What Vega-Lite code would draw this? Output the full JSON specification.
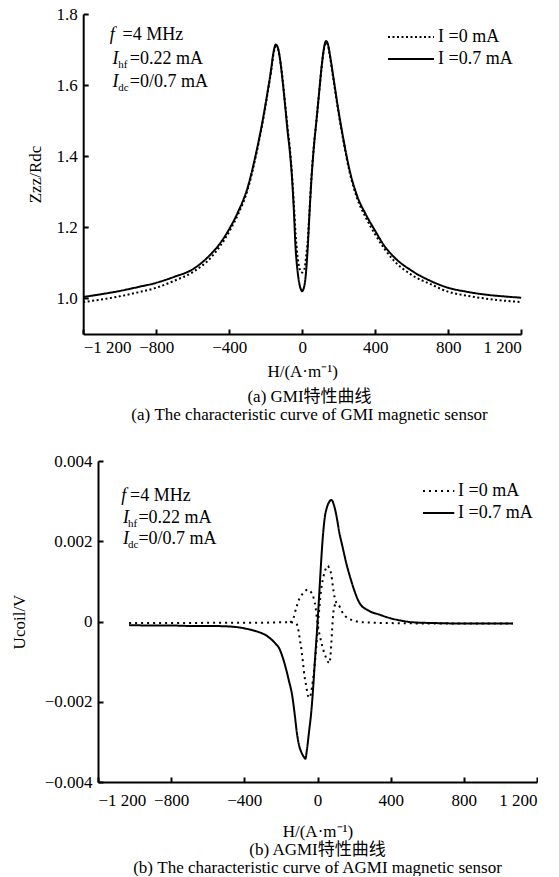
{
  "$schema": "https://vega.github.io/schema/vega-lite/v6.json",
  "background": "white",
  "padding": {"left": 10, "top": 5, "right": 0, "bottom": 0},
  "spacing": 29,
  "config": {
    "font": "Liberation Serif",
    "view": {"stroke": null},
    "axis": {
      "grid": false,
      "domainColor": "black", "domainWidth": 2,
      "tickColor": "black", "tickWidth": 2, "tickSize": -5,
      "labelFont": "Liberation Serif", "labelFontSize": 17, "labelColor": "black",
      "titleFont": "Liberation Serif", "titleFontSize": 17, "titleFontWeight": "normal", "titleColor": "black"
    },
    "axisY": {"labelPadding": 11},
    "legend": {
      "orient": "none", "title": null, "symbolStrokeWidth": 2,
      "symbolStrokeColor": "black", "labelFont": "Liberation Serif", "labelFontSize": 18,
      "labelColor": "black", "padding": 0, "rowPadding": 4, "symbolSize": 196
    },
    "title": {"orient": "bottom", "anchor": "middle", "frame": "group", "fontSize": 17, "fontWeight": "normal", "font": "Liberation Serif, Noto Sans CJK SC", "lineHeight": 18, "color": "black"},
    "text": {"font": "Liberation Serif", "color": "black", "align": "left", "baseline": "alphabetic"}
  },
  "resolve": {"scale": {"strokeDash": "independent"}, "legend": {"strokeDash": "independent"}},
  "datasets": {
    "gmi": [
      {"H": -1200, "v": 1.004, "s": "I =0.7 mA"}, {"H": -1100, "v": 1.012, "s": "I =0.7 mA"}, {"H": -1000, "v": 1.021, "s": "I =0.7 mA"},
      {"H": -900, "v": 1.032, "s": "I =0.7 mA"}, {"H": -800, "v": 1.044, "s": "I =0.7 mA"}, {"H": -700, "v": 1.061, "s": "I =0.7 mA"},
      {"H": -600, "v": 1.082, "s": "I =0.7 mA"}, {"H": -500, "v": 1.125, "s": "I =0.7 mA"}, {"H": -450, "v": 1.155, "s": "I =0.7 mA"},
      {"H": -400, "v": 1.195, "s": "I =0.7 mA"}, {"H": -350, "v": 1.245, "s": "I =0.7 mA"}, {"H": -300, "v": 1.31, "s": "I =0.7 mA"},
      {"H": -250, "v": 1.415, "s": "I =0.7 mA"}, {"H": -215, "v": 1.505, "s": "I =0.7 mA"}, {"H": -190, "v": 1.58, "s": "I =0.7 mA"},
      {"H": -170, "v": 1.645, "s": "I =0.7 mA"}, {"H": -158, "v": 1.69, "s": "I =0.7 mA"}, {"H": -145, "v": 1.714, "s": "I =0.7 mA"},
      {"H": -135, "v": 1.708, "s": "I =0.7 mA"}, {"H": -122, "v": 1.675, "s": "I =0.7 mA"}, {"H": -108, "v": 1.615, "s": "I =0.7 mA"},
      {"H": -94, "v": 1.545, "s": "I =0.7 mA"}, {"H": -80, "v": 1.47, "s": "I =0.7 mA"}, {"H": -68, "v": 1.415, "s": "I =0.7 mA"},
      {"H": -56, "v": 1.34, "s": "I =0.7 mA"}, {"H": -46, "v": 1.25, "s": "I =0.7 mA"}, {"H": -36, "v": 1.14, "s": "I =0.7 mA"},
      {"H": -26, "v": 1.08, "s": "I =0.7 mA"}, {"H": -15, "v": 1.04, "s": "I =0.7 mA"}, {"H": -6, "v": 1.024, "s": "I =0.7 mA"},
      {"H": 0, "v": 1.02, "s": "I =0.7 mA"}, {"H": 6, "v": 1.025, "s": "I =0.7 mA"}, {"H": 15, "v": 1.045, "s": "I =0.7 mA"},
      {"H": 22, "v": 1.08, "s": "I =0.7 mA"}, {"H": 30, "v": 1.14, "s": "I =0.7 mA"}, {"H": 40, "v": 1.24, "s": "I =0.7 mA"},
      {"H": 50, "v": 1.33, "s": "I =0.7 mA"}, {"H": 63, "v": 1.42, "s": "I =0.7 mA"}, {"H": 78, "v": 1.5, "s": "I =0.7 mA"},
      {"H": 92, "v": 1.575, "s": "I =0.7 mA"}, {"H": 106, "v": 1.65, "s": "I =0.7 mA"}, {"H": 118, "v": 1.7, "s": "I =0.7 mA"},
      {"H": 130, "v": 1.724, "s": "I =0.7 mA"}, {"H": 140, "v": 1.717, "s": "I =0.7 mA"}, {"H": 152, "v": 1.685, "s": "I =0.7 mA"},
      {"H": 170, "v": 1.625, "s": "I =0.7 mA"}, {"H": 195, "v": 1.54, "s": "I =0.7 mA"}, {"H": 225, "v": 1.45, "s": "I =0.7 mA"},
      {"H": 260, "v": 1.36, "s": "I =0.7 mA"}, {"H": 300, "v": 1.29, "s": "I =0.7 mA"}, {"H": 350, "v": 1.235, "s": "I =0.7 mA"},
      {"H": 400, "v": 1.19, "s": "I =0.7 mA"}, {"H": 450, "v": 1.148, "s": "I =0.7 mA"}, {"H": 500, "v": 1.118, "s": "I =0.7 mA"},
      {"H": 600, "v": 1.078, "s": "I =0.7 mA"}, {"H": 700, "v": 1.05, "s": "I =0.7 mA"}, {"H": 800, "v": 1.03, "s": "I =0.7 mA"},
      {"H": 900, "v": 1.019, "s": "I =0.7 mA"}, {"H": 1000, "v": 1.011, "s": "I =0.7 mA"}, {"H": 1100, "v": 1.006, "s": "I =0.7 mA"},
      {"H": 1200, "v": 1.002, "s": "I =0.7 mA"},
      {"H": -1200, "v": 0.99, "s": "I =0 mA"}, {"H": -1100, "v": 0.997, "s": "I =0 mA"}, {"H": -1000, "v": 1.006, "s": "I =0 mA"},
      {"H": -900, "v": 1.017, "s": "I =0 mA"}, {"H": -800, "v": 1.03, "s": "I =0 mA"}, {"H": -700, "v": 1.05, "s": "I =0 mA"},
      {"H": -600, "v": 1.074, "s": "I =0 mA"}, {"H": -500, "v": 1.115, "s": "I =0 mA"}, {"H": -450, "v": 1.147, "s": "I =0 mA"},
      {"H": -400, "v": 1.188, "s": "I =0 mA"}, {"H": -350, "v": 1.238, "s": "I =0 mA"}, {"H": -300, "v": 1.304, "s": "I =0 mA"},
      {"H": -250, "v": 1.41, "s": "I =0 mA"}, {"H": -215, "v": 1.5, "s": "I =0 mA"}, {"H": -190, "v": 1.576, "s": "I =0 mA"},
      {"H": -170, "v": 1.64, "s": "I =0 mA"}, {"H": -158, "v": 1.685, "s": "I =0 mA"}, {"H": -145, "v": 1.708, "s": "I =0 mA"},
      {"H": -135, "v": 1.705, "s": "I =0 mA"}, {"H": -122, "v": 1.675, "s": "I =0 mA"}, {"H": -108, "v": 1.62, "s": "I =0 mA"},
      {"H": -94, "v": 1.55, "s": "I =0 mA"}, {"H": -80, "v": 1.48, "s": "I =0 mA"}, {"H": -68, "v": 1.425, "s": "I =0 mA"},
      {"H": -56, "v": 1.35, "s": "I =0 mA"}, {"H": -46, "v": 1.27, "s": "I =0 mA"}, {"H": -36, "v": 1.18, "s": "I =0 mA"},
      {"H": -26, "v": 1.12, "s": "I =0 mA"}, {"H": -15, "v": 1.085, "s": "I =0 mA"}, {"H": -6, "v": 1.074, "s": "I =0 mA"},
      {"H": 0, "v": 1.073, "s": "I =0 mA"}, {"H": 6, "v": 1.076, "s": "I =0 mA"}, {"H": 15, "v": 1.09, "s": "I =0 mA"},
      {"H": 22, "v": 1.12, "s": "I =0 mA"}, {"H": 30, "v": 1.16, "s": "I =0 mA"}, {"H": 40, "v": 1.245, "s": "I =0 mA"},
      {"H": 50, "v": 1.335, "s": "I =0 mA"}, {"H": 63, "v": 1.425, "s": "I =0 mA"}, {"H": 78, "v": 1.5, "s": "I =0 mA"},
      {"H": 92, "v": 1.575, "s": "I =0 mA"}, {"H": 106, "v": 1.648, "s": "I =0 mA"}, {"H": 118, "v": 1.697, "s": "I =0 mA"},
      {"H": 130, "v": 1.72, "s": "I =0 mA"}, {"H": 140, "v": 1.713, "s": "I =0 mA"}, {"H": 152, "v": 1.68, "s": "I =0 mA"},
      {"H": 170, "v": 1.62, "s": "I =0 mA"}, {"H": 195, "v": 1.535, "s": "I =0 mA"}, {"H": 225, "v": 1.445, "s": "I =0 mA"},
      {"H": 260, "v": 1.355, "s": "I =0 mA"}, {"H": 300, "v": 1.283, "s": "I =0 mA"}, {"H": 350, "v": 1.226, "s": "I =0 mA"},
      {"H": 400, "v": 1.18, "s": "I =0 mA"}, {"H": 450, "v": 1.14, "s": "I =0 mA"}, {"H": 500, "v": 1.108, "s": "I =0 mA"},
      {"H": 600, "v": 1.066, "s": "I =0 mA"}, {"H": 700, "v": 1.041, "s": "I =0 mA"}, {"H": 800, "v": 1.019, "s": "I =0 mA"},
      {"H": 900, "v": 1.008, "s": "I =0 mA"}, {"H": 1000, "v": 1.0, "s": "I =0 mA"}, {"H": 1100, "v": 0.994, "s": "I =0 mA"},
      {"H": 1200, "v": 0.99, "s": "I =0 mA"}
    ],
    "agmi": [
      {"H": -1030, "v": -0.00009, "s": "I =0.7 mA", "sweep": "c"}, {"H": -900, "v": -0.0001, "s": "I =0.7 mA", "sweep": "c"},
      {"H": -800, "v": -0.0001, "s": "I =0.7 mA", "sweep": "c"}, {"H": -700, "v": -0.00011, "s": "I =0.7 mA", "sweep": "c"},
      {"H": -600, "v": -0.00011, "s": "I =0.7 mA", "sweep": "c"}, {"H": -500, "v": -0.00012, "s": "I =0.7 mA", "sweep": "c"},
      {"H": -440, "v": -0.00014, "s": "I =0.7 mA", "sweep": "c"}, {"H": -380, "v": -0.00019, "s": "I =0.7 mA", "sweep": "c"},
      {"H": -330, "v": -0.00025, "s": "I =0.7 mA", "sweep": "c"}, {"H": -273, "v": -0.00037, "s": "I =0.7 mA", "sweep": "c"},
      {"H": -230, "v": -0.00055, "s": "I =0.7 mA", "sweep": "c"}, {"H": -208, "v": -0.00068, "s": "I =0.7 mA", "sweep": "c"},
      {"H": -190, "v": -0.0009, "s": "I =0.7 mA", "sweep": "c"}, {"H": -171, "v": -0.0012, "s": "I =0.7 mA", "sweep": "c"},
      {"H": -155, "v": -0.0015, "s": "I =0.7 mA", "sweep": "c"}, {"H": -140, "v": -0.0018, "s": "I =0.7 mA", "sweep": "c"},
      {"H": -125, "v": -0.0023, "s": "I =0.7 mA", "sweep": "c"}, {"H": -112, "v": -0.0028, "s": "I =0.7 mA", "sweep": "c"},
      {"H": -100, "v": -0.0031, "s": "I =0.7 mA", "sweep": "c"}, {"H": -89, "v": -0.00325, "s": "I =0.7 mA", "sweep": "c"},
      {"H": -78, "v": -0.00335, "s": "I =0.7 mA", "sweep": "c"}, {"H": -66, "v": -0.00342, "s": "I =0.7 mA", "sweep": "c"},
      {"H": -58, "v": -0.0032, "s": "I =0.7 mA", "sweep": "c"}, {"H": -45, "v": -0.0027, "s": "I =0.7 mA", "sweep": "c"},
      {"H": -35, "v": -0.0023, "s": "I =0.7 mA", "sweep": "c"}, {"H": -26, "v": -0.0018, "s": "I =0.7 mA", "sweep": "c"},
      {"H": -13, "v": -0.0009, "s": "I =0.7 mA", "sweep": "c"}, {"H": 0, "v": -0.00004, "s": "I =0.7 mA", "sweep": "c"},
      {"H": 11, "v": 0.0008, "s": "I =0.7 mA", "sweep": "c"}, {"H": 20, "v": 0.0015, "s": "I =0.7 mA", "sweep": "c"},
      {"H": 29, "v": 0.0021, "s": "I =0.7 mA", "sweep": "c"}, {"H": 40, "v": 0.0026, "s": "I =0.7 mA", "sweep": "c"},
      {"H": 52, "v": 0.00285, "s": "I =0.7 mA", "sweep": "c"}, {"H": 64, "v": 0.00298, "s": "I =0.7 mA", "sweep": "c"},
      {"H": 76, "v": 0.00303, "s": "I =0.7 mA", "sweep": "c"}, {"H": 90, "v": 0.0029, "s": "I =0.7 mA", "sweep": "c"},
      {"H": 105, "v": 0.0026, "s": "I =0.7 mA", "sweep": "c"}, {"H": 120, "v": 0.0022, "s": "I =0.7 mA", "sweep": "c"},
      {"H": 135, "v": 0.0019, "s": "I =0.7 mA", "sweep": "c"}, {"H": 157, "v": 0.00146, "s": "I =0.7 mA", "sweep": "c"},
      {"H": 180, "v": 0.00108, "s": "I =0.7 mA", "sweep": "c"}, {"H": 200, "v": 0.00079, "s": "I =0.7 mA", "sweep": "c"},
      {"H": 230, "v": 0.00046, "s": "I =0.7 mA", "sweep": "c"}, {"H": 280, "v": 0.00027, "s": "I =0.7 mA", "sweep": "c"},
      {"H": 339, "v": 0.00017, "s": "I =0.7 mA", "sweep": "c"}, {"H": 400, "v": 0.00008, "s": "I =0.7 mA", "sweep": "c"},
      {"H": 460, "v": 0.00002, "s": "I =0.7 mA", "sweep": "c"}, {"H": 521, "v": -0.00002, "s": "I =0.7 mA", "sweep": "c"},
      {"H": 650, "v": -0.00004, "s": "I =0.7 mA", "sweep": "c"}, {"H": 800, "v": -0.00005, "s": "I =0.7 mA", "sweep": "c"},
      {"H": 1068, "v": -0.00005, "s": "I =0.7 mA", "sweep": "c"},
      {"H": -1030, "v": -0.00004, "s": "I =0 mA", "sweep": "a"}, {"H": -800, "v": -0.00004, "s": "I =0 mA", "sweep": "a"},
      {"H": -500, "v": -0.00003, "s": "I =0 mA", "sweep": "a"}, {"H": -300, "v": -0.00003, "s": "I =0 mA", "sweep": "a"},
      {"H": -200, "v": -0.00002, "s": "I =0 mA", "sweep": "a"}, {"H": -150, "v": -0.00002, "s": "I =0 mA", "sweep": "a"},
      {"H": -120, "v": -0.00003, "s": "I =0 mA", "sweep": "a"}, {"H": -110, "v": -0.0001, "s": "I =0 mA", "sweep": "a"},
      {"H": -98, "v": -0.0004, "s": "I =0 mA", "sweep": "a"}, {"H": -88, "v": -0.0007, "s": "I =0 mA", "sweep": "a"},
      {"H": -80, "v": -0.001, "s": "I =0 mA", "sweep": "a"}, {"H": -70, "v": -0.0014, "s": "I =0 mA", "sweep": "a"},
      {"H": -62, "v": -0.0016, "s": "I =0 mA", "sweep": "a"}, {"H": -52, "v": -0.00185, "s": "I =0 mA", "sweep": "a"},
      {"H": -44, "v": -0.0019, "s": "I =0 mA", "sweep": "a"}, {"H": -36, "v": -0.0018, "s": "I =0 mA", "sweep": "a"},
      {"H": -26, "v": -0.0015, "s": "I =0 mA", "sweep": "a"}, {"H": -16, "v": -0.0011, "s": "I =0 mA", "sweep": "a"},
      {"H": -7, "v": -0.00066, "s": "I =0 mA", "sweep": "a"}, {"H": 2, "v": -0.0001, "s": "I =0 mA", "sweep": "a"},
      {"H": 11, "v": 0.00038, "s": "I =0 mA", "sweep": "a"}, {"H": 20, "v": 0.0008, "s": "I =0 mA", "sweep": "a"},
      {"H": 29, "v": 0.00104, "s": "I =0 mA", "sweep": "a"}, {"H": 40, "v": 0.00125, "s": "I =0 mA", "sweep": "a"},
      {"H": 50, "v": 0.00136, "s": "I =0 mA", "sweep": "a"}, {"H": 56, "v": 0.00139, "s": "I =0 mA", "sweep": "a"},
      {"H": 66, "v": 0.0013, "s": "I =0 mA", "sweep": "a"}, {"H": 75, "v": 0.00118, "s": "I =0 mA", "sweep": "a"},
      {"H": 84, "v": 0.00088, "s": "I =0 mA", "sweep": "a"}, {"H": 93, "v": 0.00062, "s": "I =0 mA", "sweep": "a"},
      {"H": 102, "v": 0.00048, "s": "I =0 mA", "sweep": "a"}, {"H": 111, "v": 0.00044, "s": "I =0 mA", "sweep": "a"},
      {"H": 125, "v": 0.00034, "s": "I =0 mA", "sweep": "a"}, {"H": 138, "v": 0.00021, "s": "I =0 mA", "sweep": "a"},
      {"H": 160, "v": 0.0001, "s": "I =0 mA", "sweep": "a"}, {"H": 193, "v": 0.00003, "s": "I =0 mA", "sweep": "a"},
      {"H": 250, "v": -0.00002, "s": "I =0 mA", "sweep": "a"}, {"H": 400, "v": -0.00004, "s": "I =0 mA", "sweep": "a"},
      {"H": 700, "v": -0.00005, "s": "I =0 mA", "sweep": "a"}, {"H": 1068, "v": -0.00005, "s": "I =0 mA", "sweep": "a"},
      {"H": -150, "v": -0.00002, "s": "I =0 mA", "sweep": "b"}, {"H": -135, "v": 0.00004, "s": "I =0 mA", "sweep": "b"},
      {"H": -117, "v": 0.00033, "s": "I =0 mA", "sweep": "b"}, {"H": -98, "v": 0.00058, "s": "I =0 mA", "sweep": "b"},
      {"H": -80, "v": 0.0007, "s": "I =0 mA", "sweep": "b"}, {"H": -65, "v": 0.00077, "s": "I =0 mA", "sweep": "b"},
      {"H": -53, "v": 0.00079, "s": "I =0 mA", "sweep": "b"}, {"H": -44, "v": 0.00078, "s": "I =0 mA", "sweep": "b"},
      {"H": -35, "v": 0.00073, "s": "I =0 mA", "sweep": "b"}, {"H": -26, "v": 0.00066, "s": "I =0 mA", "sweep": "b"},
      {"H": -18, "v": 0.00052, "s": "I =0 mA", "sweep": "b"}, {"H": -11, "v": 0.00038, "s": "I =0 mA", "sweep": "b"},
      {"H": -4, "v": 0.0001, "s": "I =0 mA", "sweep": "b"}, {"H": 2, "v": -0.0001, "s": "I =0 mA", "sweep": "b"},
      {"H": 10, "v": -0.0003, "s": "I =0 mA", "sweep": "b"}, {"H": 20, "v": -0.0005, "s": "I =0 mA", "sweep": "b"},
      {"H": 30, "v": -0.00068, "s": "I =0 mA", "sweep": "b"}, {"H": 40, "v": -0.00082, "s": "I =0 mA", "sweep": "b"},
      {"H": 50, "v": -0.00094, "s": "I =0 mA", "sweep": "b"}, {"H": 58, "v": -0.00101, "s": "I =0 mA", "sweep": "b"},
      {"H": 66, "v": -0.00104, "s": "I =0 mA", "sweep": "b"}, {"H": 70, "v": -0.0009, "s": "I =0 mA", "sweep": "b"},
      {"H": 75, "v": -0.0006, "s": "I =0 mA", "sweep": "b"}, {"H": 80, "v": -0.0002, "s": "I =0 mA", "sweep": "b"},
      {"H": 86, "v": 0.0002, "s": "I =0 mA", "sweep": "b"}, {"H": 93, "v": 0.00038, "s": "I =0 mA", "sweep": "b"},
      {"H": 102, "v": 0.00045, "s": "I =0 mA", "sweep": "b"}, {"H": 111, "v": 0.00044, "s": "I =0 mA", "sweep": "b"}
    ]
  },
  "vconcat": [
    {
      "width": 423, "height": 320,
      "title": {"text": ["(a) GMI特性曲线", "(a) The characteristic curve of GMI magnetic sensor"], "offset": 10},
      "layer": [
        {
          "data": {"name": "gmi"},
          "mark": {"type": "line", "strokeWidth": 2, "color": "black", "strokeCap": "butt", "interpolate": "monotone"},
          "encoding": {
            "x": {"field": "H", "type": "quantitative", "scale": {"domain": [-1200, 1200], "nice": false, "range": [-14.8, 423.2]},
                  "axis": {"values": [-1200, -800, -400, 0, 400, 800, 1200], "labelExpr": "replace(format(datum.value, ','), ',', ' ')",
                           "title": "H/(A·m⁻¹)", "labelFont": "Liberation Serif", "titleFont": "Liberation Serif", "labelPadding": 10, "titlePadding": 8}},
            "y": {"field": "v", "type": "quantitative", "scale": {"domain": [0.9, 1.8], "nice": false, "zero": false},
                  "axis": {"values": [1.0, 1.2, 1.4, 1.6, 1.8], "format": ".1f", "title": "Zzz/Rdc", "titlePadding": 11, "offset": 14.8,
                           "labelFont": "Liberation Serif", "titleFont": "Liberation Serif"}},
            "strokeDash": {"field": "s", "type": "nominal",
                  "scale": {"domain": ["I =0 mA", "I =0.7 mA"], "range": [[2, 2.5], [1, 0]]},
                  "legend": {"legendX": 288, "legendY": 14, "symbolType": "M-1,0L5.57,0", "labelOffset": 34, "labelFont": "Liberation Serif"}}
          }
        },
        {"data": {"values": [{}]}, "mark": {"type": "text", "text": "f", "fontStyle": "italic", "fontSize": 18}, "encoding": {"x": {"datum": -1055}, "y": {"datum": 1.728}}},
        {"data": {"values": [{}]}, "mark": {"type": "text", "text": "=4 MHz", "fontSize": 18}, "encoding": {"x": {"datum": -984}, "y": {"datum": 1.728}}},
        {"data": {"values": [{}]}, "mark": {"type": "text", "text": "I", "fontStyle": "italic", "fontSize": 18}, "encoding": {"x": {"datum": -1040}, "y": {"datum": 1.659}}},
        {"data": {"values": [{}]}, "mark": {"type": "text", "text": "hf", "fontSize": 11, "dy": 4}, "encoding": {"x": {"datum": -1008}, "y": {"datum": 1.659}}},
        {"data": {"values": [{}]}, "mark": {"type": "text", "text": "=0.22 mA", "fontSize": 18}, "encoding": {"x": {"datum": -945}, "y": {"datum": 1.659}}},
        {"data": {"values": [{}]}, "mark": {"type": "text", "text": "I", "fontStyle": "italic", "fontSize": 18}, "encoding": {"x": {"datum": -1040}, "y": {"datum": 1.596}}},
        {"data": {"values": [{}]}, "mark": {"type": "text", "text": "dc", "fontSize": 11, "dy": 4}, "encoding": {"x": {"datum": -1008}, "y": {"datum": 1.596}}},
        {"data": {"values": [{}]}, "mark": {"type": "text", "text": "=0/0.7 mA", "fontSize": 18}, "encoding": {"x": {"datum": -945}, "y": {"datum": 1.596}}}
      ]
    },
    {
      "width": 439, "height": 321,
      "title": {"text": ["(b) AGMI特性曲线", "(b) The characteristic curve of AGMI magnetic sensor"], "offset": 3},
      "layer": [
        {
          "data": {"name": "agmi"},
          "mark": {"type": "line", "strokeWidth": 2, "color": "black", "strokeCap": "butt", "interpolate": "monotone"},
          "encoding": {
            "x": {"field": "H", "type": "quantitative", "scale": {"domain": [-1200, 1200], "nice": false},
                  "axis": {"values": [-1200, -800, -400, 0, 400, 800, 1200], "labelExpr": "replace(format(datum.value, ','), ',', ' ')",
                           "title": "H/(A·m⁻¹)", "labelFont": "Liberation Serif", "titleFont": "Liberation Serif", "labelPadding": 15, "titlePadding": 15}},
            "y": {"field": "v", "type": "quantitative", "scale": {"domain": [-0.004, 0.004], "nice": false, "zero": false},
                  "axis": {"values": [-0.004, -0.002, 0, 0.002, 0.004], "format": "~g", "title": "Ucoil/V", "titlePadding": 16,
                           "labelFont": "Liberation Serif", "titleFont": "Liberation Serif"}},
            "strokeDash": {"field": "s", "type": "nominal",
                  "scale": {"domain": ["I =0 mA", "I =0.7 mA"], "range": [[2, 4], [1, 0]]},
                  "legend": {"legendX": 323, "legendY": 21, "symbolType": "M-1,0L3.47,0", "labelOffset": 19, "labelFont": "Liberation Serif"}},
            "detail": {"field": "sweep", "type": "nominal"}
          }
        },
        {"data": {"values": [{}]}, "mark": {"type": "text", "text": "f", "fontStyle": "italic", "fontSize": 18}, "encoding": {"x": {"datum": -1073}, "y": {"datum": 0.003}}},
        {"data": {"values": [{}]}, "mark": {"type": "text", "text": "=4 MHz", "fontSize": 18}, "encoding": {"x": {"datum": -1025}, "y": {"datum": 0.003}}},
        {"data": {"values": [{}]}, "mark": {"type": "text", "text": "I", "fontStyle": "italic", "fontSize": 18}, "encoding": {"x": {"datum": -1064}, "y": {"datum": 0.00246}}},
        {"data": {"values": [{}]}, "mark": {"type": "text", "text": "hf", "fontSize": 11, "dy": 4}, "encoding": {"x": {"datum": -1036}, "y": {"datum": 0.00246}}},
        {"data": {"values": [{}]}, "mark": {"type": "text", "text": "=0.22 mA", "fontSize": 18}, "encoding": {"x": {"datum": -979}, "y": {"datum": 0.00246}}},
        {"data": {"values": [{}]}, "mark": {"type": "text", "text": "I", "fontStyle": "italic", "fontSize": 18}, "encoding": {"x": {"datum": -1064}, "y": {"datum": 0.00192}}},
        {"data": {"values": [{}]}, "mark": {"type": "text", "text": "dc", "fontSize": 11, "dy": 4}, "encoding": {"x": {"datum": -1036}, "y": {"datum": 0.00192}}},
        {"data": {"values": [{}]}, "mark": {"type": "text", "text": "=0/0.7 mA", "fontSize": 18}, "encoding": {"x": {"datum": -979}, "y": {"datum": 0.00192}}}
      ]
    }
  ]
}
